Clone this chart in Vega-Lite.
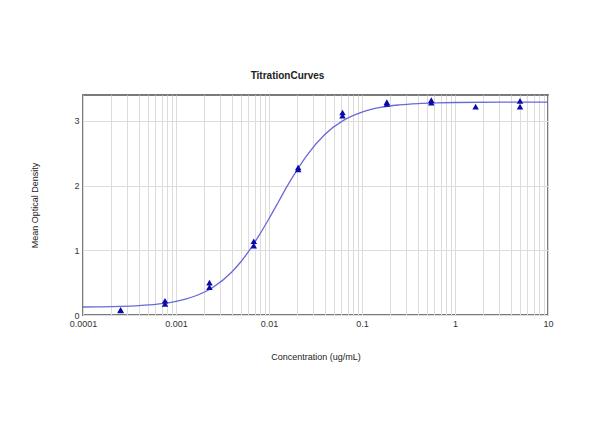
{
  "$schema": "https://vega.github.io/schema/vega-lite/v6.json",
  "width": 465,
  "height": 220,
  "autosize": "none",
  "padding": {"left": 83, "top": 95, "right": 52, "bottom": 132},
  "background": "white",
  "title": {
    "text": "TitrationCurves",
    "fontSize": 10,
    "fontWeight": "bold",
    "font": "Liberation Sans",
    "color": "#222",
    "dx": -28,
    "offset": 14
  },
  "datasets": {
    "readings": [
      {"conc": 0.000254, "od": 0.08},
      {"conc": 0.000254, "od": 0.07},
      {"conc": 0.000762, "od": 0.17},
      {"conc": 0.000762, "od": 0.22},
      {"conc": 0.00229, "od": 0.43},
      {"conc": 0.00229, "od": 0.5},
      {"conc": 0.00686, "od": 1.07},
      {"conc": 0.00686, "od": 1.14},
      {"conc": 0.0206, "od": 2.25},
      {"conc": 0.0206, "od": 2.28},
      {"conc": 0.0617, "od": 3.08},
      {"conc": 0.0617, "od": 3.13},
      {"conc": 0.185, "od": 3.26},
      {"conc": 0.185, "od": 3.29},
      {"conc": 0.556, "od": 3.28},
      {"conc": 0.556, "od": 3.32},
      {"conc": 1.667, "od": 3.22},
      {"conc": 5, "od": 3.22},
      {"conc": 5, "od": 3.31}
    ],
    "fit": [
      {"conc": 0.0001, "od": 0.124},
      {"conc": 0.000158, "od": 0.127},
      {"conc": 0.000251, "od": 0.133},
      {"conc": 0.000398, "od": 0.145},
      {"conc": 0.000631, "od": 0.168},
      {"conc": 0.001, "od": 0.211},
      {"conc": 0.00158, "od": 0.29},
      {"conc": 0.00251, "od": 0.43},
      {"conc": 0.00398, "od": 0.665},
      {"conc": 0.00501, "od": 0.827},
      {"conc": 0.00631, "od": 1.022},
      {"conc": 0.00794, "od": 1.245},
      {"conc": 0.01, "od": 1.49},
      {"conc": 0.0126, "od": 1.746},
      {"conc": 0.0158, "od": 2.0},
      {"conc": 0.02, "od": 2.239},
      {"conc": 0.0251, "od": 2.453},
      {"conc": 0.0398, "od": 2.79},
      {"conc": 0.0631, "od": 3.007},
      {"conc": 0.1, "od": 3.136},
      {"conc": 0.158, "od": 3.208},
      {"conc": 0.251, "od": 3.246},
      {"conc": 0.398, "od": 3.267},
      {"conc": 0.631, "od": 3.278},
      {"conc": 1, "od": 3.284},
      {"conc": 3.16, "od": 3.289},
      {"conc": 10, "od": 3.29}
    ]
  },
  "encoding": {
    "x": {
      "field": "conc",
      "type": "quantitative",
      "scale": {"type": "log", "domain": [0.0001, 10], "nice": false},
      "axis": {
        "title": "Concentration (ug/mL)",
        "values": [
          0.0001, 0.0002, 0.0003, 0.0004, 0.0005, 0.0006, 0.0007, 0.0008, 0.0009,
          0.001, 0.002, 0.003, 0.004, 0.005, 0.006, 0.007, 0.008, 0.009,
          0.01, 0.02, 0.03, 0.04, 0.05, 0.06, 0.07, 0.08, 0.09,
          0.1, 0.2, 0.3, 0.4, 0.5, 0.6, 0.7, 0.8, 0.9,
          1, 2, 3, 4, 5, 6, 7, 8, 9, 10
        ],
        "labelExpr": "indexof([0.0001, 0.001, 0.01, 0.1, 1, 10], datum.value) >= 0 ? format(datum.value, '~g') : ''",
        "labelFlush": false,
        "labelOverlap": false,
        "labelPadding": 4,
        "titlePadding": 24
      }
    },
    "y": {
      "field": "od",
      "type": "quantitative",
      "scale": {"domain": [0, 3.4], "nice": false},
      "axis": {
        "title": "Mean Optical Density",
        "values": [0, 1, 2, 3],
        "labelPadding": 4,
        "titlePadding": 34
      }
    }
  },
  "layer": [
    {
      "data": {"name": "fit"},
      "mark": {"type": "line", "color": "#6a6ad6", "strokeWidth": 1.3, "interpolate": "monotone"}
    },
    {
      "data": {"name": "readings"},
      "mark": {"type": "point", "shape": "triangle-up", "filled": true, "color": "#0a0aa8", "size": 42, "opacity": 1}
    }
  ],
  "config": {
    "view": {"stroke": "#7a7a7a", "strokeWidth": 2},
    "axis": {
      "domain": false,
      "ticks": false,
      "gridColor": "#dcdcdc",
      "gridWidth": 1,
      "labelFont": "Liberation Sans",
      "labelFontSize": 9,
      "labelColor": "#333",
      "titleFont": "Liberation Sans",
      "titleFontSize": 9,
      "titleFontWeight": "normal",
      "titleColor": "#222"
    }
  }
}
